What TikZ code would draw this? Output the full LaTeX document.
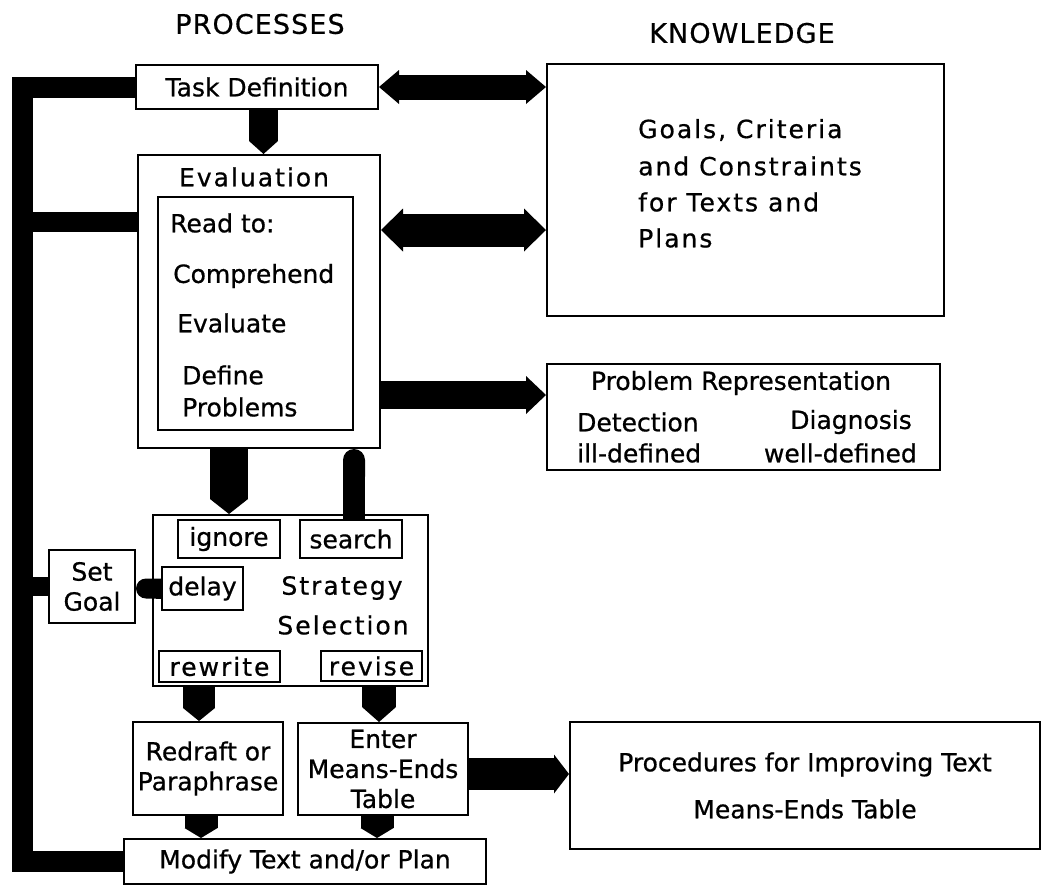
\documentclass[tikz,border=0pt]{standalone}
\usepackage{fontspec}
\setmainfont[FakeBold=0.7]{DejaVu Sans}
\newfontfamily\spacedfont[LetterSpace=8,FakeBold=0.7]{DejaVu Sans}
\newfontfamily\headfont[LetterSpace=4,FakeBold=0.5]{DejaVu Sans}
\usetikzlibrary{arrows.meta,calc}

\begin{document}
\begin{tikzpicture}[x=1pt,y=-1pt,
  box/.style={draw, line width=2pt, rectangle, fill=white, inner sep=0pt, align=center,
              font=\fontsize{25}{30}\selectfont},
  lbl/.style={inner sep=0pt, font=\fontsize{25}{30}\selectfont},
  slbl/.style={inner sep=0pt, font=\spacedfont\fontsize{25}{30}\selectfont},
  head/.style={inner sep=0pt, font=\headfont\fontsize{27}{31}\selectfont},
  bar/.style={line width=21pt},
  pointer/.style 2 args={line width=#1, -{Triangle[length=#2, width=#1, line width=0pt]}},
  fat/.style n args={3}{line width=#1, -{Triangle[length=#3, width=#2, line width=0pt]}},
  twoway/.style n args={3}{line width=#1,
     {Triangle[length=#3, width=#2, line width=0pt]}-{Triangle[length=#3, width=#2, line width=0pt]}},
  knob/.style={line width=#1, -{Round Cap[]}},
]
\fill[white] (0,0) rectangle (1043,886);
\useasboundingbox (0,0) rectangle (1043,886);

% column headings
\node[head] (hproc) at (260,24) {PROCESSES};
\node[head] (hknow) at (742,33) {KNOWLEDGE};

% process boxes
\node[box, minimum width=242pt, minimum height=44pt] (td) at (257,87) {Task Definition};
\node[box, minimum width=242pt, minimum height=293pt] (eval) at (259,301.5) {};
\node[slbl] (evtitle) at (254,177) {Evaluation};
\node[box, minimum width=195pt, minimum height=233pt] (inner) at (255.5,313.5) {};
\node[lbl, anchor=west] (rd) at (170,223) {Read to:};
\node[lbl, anchor=west] (rd1) at (173,276) {Comprehend};
\node[lbl, anchor=west] (rd2) at (177,323) {Evaluate};
\node[lbl, anchor=west] (rd3) at (182,375) {Define};
\node[lbl, anchor=west] (rd4) at (182,407) {Problems};

\node[box, minimum width=275pt, minimum height=171pt] (strat) at (290.5,600.5) {};
\node[box, minimum width=102pt, minimum height=38pt] (ignore) at (229,539) {ignore};
\node[box, minimum width=102pt, minimum height=38pt] (search) at (351,539) {search};
\node[box, minimum width=81pt, minimum height=43pt] (delay) at (202.5,588.5) {delay};
\node[slbl] (st1) at (342,588) {Strategy};
\node[slbl] (st2) at (343,625) {Selection};
\node[box, minimum width=121pt, minimum height=31pt, font=\spacedfont\fontsize{25}{30}\selectfont] (rewrite) at (219.5,666.5) {rewrite};
\node[box, minimum width=101pt, minimum height=30pt, font=\spacedfont\fontsize{25}{30}\selectfont] (revise) at (371.5,666) {revise};

\node[box, minimum width=86pt, minimum height=73pt] (setgoal) at (92,586.5) {Set\\Goal};
\node[box, minimum width=150pt, minimum height=93pt] (redraft) at (208,768.5) {Redraft or\\Paraphrase};
\node[box, minimum width=170pt, minimum height=92pt] (enter) at (383,769) {Enter\\Means-Ends\\Table};
\node[box, minimum width=362pt, minimum height=45pt] (modify) at (305,861.5) {Modify Text and/or Plan};

% knowledge boxes
\node[box, minimum width=397pt, minimum height=252pt] (know) at (745.5,190) {};
\node[slbl, anchor=west] (k1) at (638,130) {Goals, Criteria};
\node[slbl, anchor=west] (k2) at (638,166) {and Constraints};
\node[slbl, anchor=west] (k3) at (638,202) {for Texts and};
\node[slbl, anchor=west] (k4) at (638,238) {Plans};

\node[box, minimum width=393pt, minimum height=106pt] (prob) at (743.5,417) {};
\node[lbl] (p0) at (741,383) {Problem Representation};
\node[lbl, anchor=west] (p1) at (577,422) {Detection};
\node[lbl, anchor=west] (p2) at (577,453) {ill-defined};
\node[lbl, anchor=east] (p3) at (912,422) {Diagnosis};
\node[lbl, anchor=east] (p4) at (917,453) {well-defined};

\node[box, minimum width=470pt, minimum height=127pt, font=\fontsize{25}{47}\selectfont] (proc) at (805,785.5)
  {Procedures for Improving Text\\Means-Ends Table};

% feedback bar on the left
\coordinate (barx) at (22,0);
\coordinate (evtap) at ($(eval.north west)+(0,68)$);
\draw[bar] (td.west) -- (td.west -| barx) -- (modify.west -| barx) -- (modify.west);
\draw[line width=20pt] (evtap -| barx) -- (evtap);
\draw[line width=19pt] (setgoal.west -| barx) -- (setgoal.west);

% links to the knowledge stores
\coordinate (evk) at ($(eval.north east)+(0,76)$);
\coordinate (evp) at ($(prob.north west)+(0,32)$);
\coordinate (enp) at ($(enter.east)+(0,5)$);
\draw[twoway={25pt}{34pt}{20pt}] (td.east) -- (td.east -| know.west);
\draw[twoway={33pt}{43pt}{22pt}] (evk) -- (evk -| know.west);
\draw[fat={28pt}{38pt}{20pt}] (evp -| eval.east) -- (evp);
\draw[fat={32pt}{39pt}{15pt}] (enp) -- (enp -| proc.west);

% flow between processes
\draw[pointer={29pt}{13pt}] ($(td.south)+(6.5,0)$) -- ($(eval.north)+(4.5,0)$);
\draw[pointer={38pt}{15pt}] (eval.south -| ignore.north) -- (strat.north -| ignore.north);
\draw[knob=22pt] ($(search.north)+(3,0)$) -- ($(eval.south -| search.north)+(3,0)$);
\draw[knob=20pt] (delay.west) -- (delay.west -| setgoal.east);
\draw[pointer={32pt}{13pt}] ($(strat.south west)+(47,0)$) -- ($(redraft.north west)+(67,0)$);
\draw[pointer={34pt}{15pt}] ($(strat.south west)+(227,0)$) -- ($(enter.north west)+(82,0)$);
\draw[pointer={33pt}{10pt}] ($(redraft.south west)+(69,0)$) -- ($(modify.north west)+(78,0)$);
\draw[pointer={33pt}{10pt}] ($(enter.south west)+(80,0)$) -- ($(modify.north west)+(254,0)$);
\end{tikzpicture}
\end{document}
